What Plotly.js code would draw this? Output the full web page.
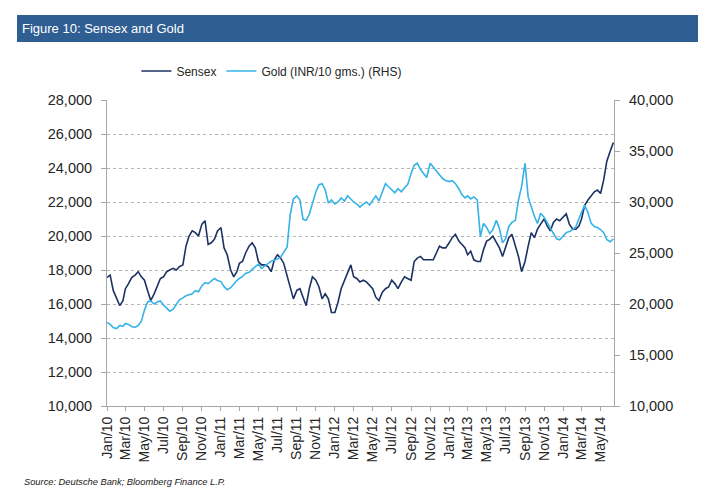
<!DOCTYPE html>
<html><head><meta charset="utf-8">
<script src="https://cdn.plot.ly/plotly-3.0.1.min.js"></script>
<style>html,body{margin:0;padding:0;background:#fff}#chart{width:720px;height:489px}</style>
</head><body><div id="chart"></div>
<script>
// Observations roughly every 10 days (1st, 11th, 21st of each month), Jan 2010 - Jun 2014
const startYear = 2010;
const obsDays = [1, 11, 21];

const sensex = [
  // 2010
  17560,17700,16800, 16350,15900,16200, 16900,17200,17550, 17700,17900,17600,
  17400,16800,16200, 16600,17100,17500, 17600,17900,18000, 18100,18000,18200,
  18300,19400,20000, 20300,20200,20000, 20700,20900,19500, 19600,19800,20300,
  // 2011
  20500,19300,18900, 18000,17600,17900, 18400,18500,19000, 19400,19600,19300,
  18500,18300,18300, 18200,17900,18600, 18900,18700,18400, 17700,17000,16300,
  16800,16900,16400, 15900,16900,17600, 17400,17000,16300, 16600,16300,15500,
  // 2012
  15500,16100,16900, 17400,17800,18300, 17600,17500,17300, 17400,17300,17100,
  16900,16400,16200, 16700,16900,17000, 17400,17200,16900, 17300,17600,17500,
  17400,18500,18700, 18800,18600,18600, 18600,18600,19000, 19400,19300,19300,
  // 2013
  19600,19900,20100, 19700,19500,19300, 18900,19100,18600, 18500,18500,19200,
  19700,19800,20000, 19600,19300,18800, 19400,19900,20100, 19400,18800,17900,
  18500,19400,20200, 19900,20400,20700, 21000,20600,20300, 20800,21000,20900,
  // 2014
  21100,21300,20700, 20400,20400,20600, 21000,21800,22100, 22400,22600,22700,
  22500,23300,24400, 25000,25500
];

const gold = [
  // 2010
  18200,18000,17700, 17600,17900,17800, 18100,18000,17800, 17700,17900,18300,
  19400,20200,20300, 20000,20200,20300, 19900,19600,19300, 19500,19900,20400,
  20600,20800,20900, 21000,21300,21200, 21800,22100,22000, 22300,22500,22300,
  // 2011
  22200,21700,21400, 21600,22000,22300, 22500,22700,23000, 23100,23400,23700,
  23900,23500,23700, 24000,24200,24300, 24400,24600,25100, 25600,28800,30300,
  30600,30200,28300, 28200,28800,29800, 31000,31700,31800, 31200,29900,30200,
  // 2012
  29800,30000,30400, 30100,30600,30300, 30000,29800,29500, 29800,30000,29700,
  30200,30600,30100, 31000,31800,31500, 31200,30900,31300, 31000,31400,31700,
  32800,33600,33800, 33200,32800,32400, 33800,33400,33100, 32700,32300,32100,
  // 2013
  32000,32100,31800, 31300,30700,30400, 30600,30300,30500, 30200,26600,27900,
  27500,26900,27300, 28200,27400,26000, 26400,27600,28000, 28200,30200,31500,
  33800,30500,29500, 28600,27900,28900, 28500,28000,27500, 27000,26400,26300,
  // 2014
  26700,27000,27100, 27300,27600,28500, 29000,29700,29000, 27900,27600,27500,
  27300,27000,26300, 26100,26400
];

const seriesNames = ['Sensex', 'Gold (INR/10 gms.) (RHS)'];

function pad(n){ return (n < 10 ? '0' : '') + n; }
const dates = sensex.map((_, i) => {
  const mIdx = Math.floor(i / 3);
  const y = startYear + Math.floor(mIdx / 12);
  const m = mIdx % 12 + 1;
  return y + '-' + pad(m) + '-' + pad(obsDays[i % 3]);
});

const traces = [
  {x: dates, y: sensex, name: seriesNames[0], type: 'scatter', mode: 'lines',
   line: {color: '#1C3263', width: 1.6}, yaxis: 'y'},
  {x: dates, y: gold, name: seriesNames[1], type: 'scatter', mode: 'lines',
   line: {color: '#35B3E6', width: 1.6}, yaxis: 'y2'}
];

const yFont = {family: 'Liberation Sans, Arial, sans-serif', size: 14.5, color: '#262626'};
const xFont = {family: 'Liberation Sans, Arial, sans-serif', size: 14, color: '#262626'};

const layout = {
  width: 720, height: 489,
  margin: {l: 107, r: 106, t: 100, b: 83},
  paper_bgcolor: '#ffffff', plot_bgcolor: '#ffffff',
  separators: '.,',
  showlegend: true,
  legend: {orientation: 'h', x: 0.058, xanchor: 'left', y: 1.095, yanchor: 'middle',
           font: {family: 'Liberation Sans, Arial, sans-serif', size: 12, color: '#262626'},
           bgcolor: 'rgba(0,0,0,0)', itemwidth: 30},
  xaxis: {
    type: 'date', range: ['2010-01-01', '2014-06-13'],
    tick0: '2010-01-01', dtick: 'M2', tickformat: '%b/%y', tickangle: -90,
    ticks: 'outside', ticklen: 4, tickcolor: '#A6A6A6',
    showline: true, linecolor: '#A6A6A6', linewidth: 1,
    showgrid: false, zeroline: false, tickfont: xFont
  },
  yaxis: {
    range: [10000, 28000], dtick: 2000, tick0: 10000, tickformat: ',',
    ticks: 'outside', ticklen: 5, tickcolor: '#A6A6A6',
    showline: true, linecolor: '#A6A6A6', linewidth: 1,
    showgrid: true, gridcolor: '#B5B5B5', griddash: 'dot', gridwidth: 1,
    zeroline: false, tickfont: yFont, ticklabelstandoff: 6
  },
  yaxis2: {
    overlaying: 'y', side: 'right',
    range: [10000, 40000], dtick: 5000, tick0: 10000, tickformat: ',',
    ticks: 'outside', ticklen: 5, tickcolor: '#A6A6A6',
    showline: true, linecolor: '#A6A6A6', linewidth: 1,
    showgrid: false, zeroline: false, tickfont: yFont, ticklabelstandoff: 6
  },
  shapes: [
    {type: 'rect', xref: 'paper', yref: 'paper', x0: -0.1775, x1: 1.1657, y0: 1.1895, y1: 1.2778,
     fillcolor: '#2F5E93', line: {width: 0}, layer: 'above'}
  ],
  annotations: [
    {text: 'Figure 10: Sensex and Gold', xref: 'paper', yref: 'paper',
     x: -0.1716, xanchor: 'left', y: 1.2337, yanchor: 'middle', showarrow: false,
     font: {family: 'Liberation Sans Narrow, Arial Narrow, Liberation Sans, Arial, sans-serif', size: 13, color: '#ffffff'}},
    {text: '<i>Source: Deutsche Bank; Bloomberg Finance L.P.</i>', xref: 'paper', yref: 'paper',
     x: -0.1677, xanchor: 'left', y: -0.2484, yanchor: 'middle', showarrow: false,
     font: {family: 'Liberation Sans, Arial, sans-serif', size: 9.3, color: '#1a1a1a'}}
  ]
};

Plotly.newPlot('chart', traces, layout, {staticPlot: true, displayModeBar: false});
</script>
</body></html>
